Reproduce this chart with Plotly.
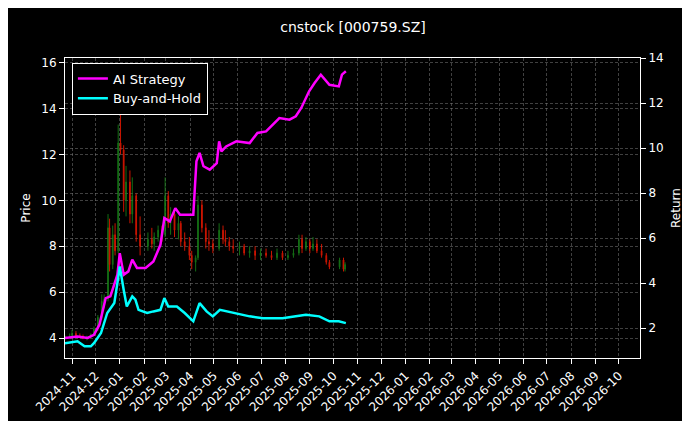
import plotly.graph_objects as go

c_dates = ["2024-10-24","2024-10-29","2024-11-01","2024-11-06","2024-11-11","2024-11-15","2024-11-20","2024-11-25","2024-11-29","2024-12-04","2024-12-09","2024-12-12","2024-12-17","2024-12-19","2024-12-23","2024-12-26","2024-12-30","2025-01-02","2025-01-06","2025-01-09","2025-01-14","2025-01-17","2025-01-22","2025-01-27","2025-02-06","2025-02-11","2025-02-14","2025-02-19","2025-02-24","2025-02-28","2025-03-04","2025-03-07","2025-03-12","2025-03-17","2025-03-20","2025-03-25","2025-03-31","2025-04-03","2025-04-08","2025-04-11","2025-04-16","2025-04-21","2025-04-25","2025-04-30","2025-05-08","2025-05-13","2025-05-16","2025-05-21","2025-05-26","2025-06-03","2025-06-09","2025-06-16","2025-06-23","2025-06-30","2025-07-07","2025-07-14","2025-07-21","2025-07-28","2025-08-04","2025-08-11","2025-08-18","2025-08-22","2025-08-27","2025-09-01","2025-09-05","2025-09-10","2025-09-16","2025-09-22","2025-09-26","2025-10-09","2025-10-14","2025-10-16"]
c_open = [4.0,4.05,4.1,4.2,4.1,4.05,4.0,4.05,4.15,4.4,4.9,5.6,5.7,8.8,7.2,8.5,7.8,12.5,12.2,10.0,10.8,9.4,10.2,8.5,8.0,8.3,8.1,8.4,8.7,8.5,10.2,9.0,9.4,8.7,9.0,8.2,8.0,7.6,7.3,7.5,9.8,8.8,8.2,8.1,7.9,8.7,8.3,8.2,8.0,7.9,8.0,7.7,7.8,7.6,7.7,7.6,7.5,7.7,7.5,7.6,7.7,8.3,7.9,8.2,7.9,8.1,7.8,7.6,7.3,7.1,7.4,7.0]
c_high = [4.1,4.2,4.35,4.3,4.2,4.15,4.1,4.2,4.5,5.0,5.9,5.9,9.4,9.2,8.9,9.0,13.3,14.3,12.4,11.5,11.3,11.0,10.3,9.3,8.6,8.8,8.6,8.9,8.9,11.0,10.4,9.7,9.6,9.3,9.1,8.6,8.4,7.8,7.6,10.2,10.0,9.0,8.7,8.3,9.0,8.9,8.7,8.4,8.3,8.2,8.1,8.0,8.0,7.9,7.9,7.8,7.9,7.8,7.8,7.9,8.5,8.5,8.4,8.3,8.4,8.3,8.1,7.7,7.4,7.5,7.5,7.3]
c_low = [3.95,4.0,4.05,4.05,4.0,3.95,3.9,4.0,4.1,4.3,4.8,5.3,5.6,6.9,7.0,7.6,7.7,12.0,9.5,9.3,9.0,9.0,8.2,7.6,7.8,7.9,7.8,8.2,8.2,8.4,8.8,8.5,8.4,8.3,8.0,7.8,7.4,7.0,6.9,7.4,8.6,7.9,7.8,7.7,7.8,8.1,8.0,7.8,7.7,7.6,7.6,7.5,7.4,7.4,7.5,7.4,7.4,7.4,7.4,7.5,7.6,7.7,7.8,7.7,7.8,7.7,7.5,7.2,7.0,7.0,6.9,6.9]
c_close = [4.05,4.1,4.2,4.1,4.05,4.0,4.05,4.15,4.4,4.9,5.6,5.7,8.8,7.2,8.5,7.8,12.5,12.2,10.0,10.8,9.4,10.2,8.5,8.0,8.3,8.1,8.4,8.7,8.5,10.2,9.0,9.4,8.7,9.0,8.2,8.0,7.6,7.3,7.5,9.8,8.8,8.2,8.1,7.9,8.7,8.3,8.2,8.0,7.9,8.0,7.7,7.8,7.6,7.7,7.6,7.5,7.7,7.5,7.6,7.7,8.3,7.9,8.2,7.9,8.1,7.8,7.6,7.3,7.1,7.4,7.0,7.2]

ai_dates = ["2024-10-23","2024-11-08","2024-11-21","2024-11-29","2024-12-06","2024-12-14","2024-12-20","2024-12-29","2025-01-01","2025-01-06","2025-01-12","2025-01-17","2025-01-23","2025-02-03","2025-02-13","2025-02-17","2025-02-22","2025-02-27","2025-03-06","2025-03-13","2025-03-19","2025-04-05","2025-04-09","2025-04-13","2025-04-18","2025-04-26","2025-05-05","2025-05-08","2025-05-11","2025-05-17","2025-05-30","2025-06-16","2025-06-26","2025-07-07","2025-07-15","2025-07-24","2025-08-06","2025-08-14","2025-08-21","2025-08-31","2025-09-07","2025-09-15","2025-09-26","2025-10-08","2025-10-12","2025-10-17"]
ai_ret = [1.56,1.63,1.56,1.70,2.15,3.33,3.41,4.37,5.33,4.37,4.52,5.04,4.67,4.67,4.96,5.33,5.70,6.89,6.74,7.33,7.04,7.04,9.41,9.78,9.19,9.04,9.33,10.30,9.85,10.07,10.30,10.22,10.67,10.74,11.04,11.33,11.26,11.41,11.78,12.52,12.89,13.26,12.81,12.74,13.26,13.41]

bh_dates = ["2024-10-23","2024-11-08","2024-11-17","2024-11-25","2024-11-29","2024-12-08","2024-12-16","2024-12-25","2024-12-29","2025-01-01","2025-01-06","2025-01-10","2025-01-17","2025-01-21","2025-01-25","2025-02-05","2025-02-13","2025-02-22","2025-02-27","2025-03-04","2025-03-15","2025-03-25","2025-04-05","2025-04-13","2025-04-22","2025-04-30","2025-05-09","2025-05-26","2025-06-16","2025-07-03","2025-07-28","2025-08-14","2025-08-27","2025-09-13","2025-09-26","2025-10-08","2025-10-17"]
bh_ret = [1.33,1.41,1.19,1.19,1.33,1.78,2.67,3.11,4.00,4.74,3.70,2.96,3.41,3.26,2.81,2.67,2.74,2.81,3.33,2.96,2.96,2.67,2.30,3.11,2.74,2.52,2.81,2.67,2.52,2.44,2.44,2.52,2.59,2.52,2.30,2.30,2.22]

fig = go.Figure()
fig.add_trace(go.Candlestick(x=c_dates, open=c_open, high=c_high, low=c_low, close=c_close,
    increasing=dict(line=dict(color="#1a8a1a", width=1), fillcolor="#1a8a1a"),
    decreasing=dict(line=dict(color="#ff1a00", width=1), fillcolor="#ff1a00"),
    whiskerwidth=0, opacity=0.8, showlegend=False, yaxis="y"))
fig.add_trace(go.Scatter(x=ai_dates, y=ai_ret, mode="lines", name="AI Strategy",
    line=dict(color="#ff00ff", width=2.5), yaxis="y2"))
fig.add_trace(go.Scatter(x=bh_dates, y=bh_ret, mode="lines", name="Buy-and-Hold",
    line=dict(color="#00ffff", width=2.5), yaxis="y2"))

grid = "rgba(128,128,128,0.5)"
gd = "3px,2px"
fig.update_layout(
    width=690, height=421, paper_bgcolor="black", plot_bgcolor="black",
    font=dict(family="DejaVu Sans", color="white", size=12),
    margin=dict(l=57, r=58, t=50, b=71),
    title=dict(text="cnstock [000759.SZ]", x=0.5, xanchor="center", y=0.955, yanchor="middle", font=dict(size=14)),
    xaxis=dict(range=["2024-10-23","2026-10-28"], dtick="M1", tick0="2024-11-01", tickformat="%Y-%m",
               tickangle=-45, showgrid=True, gridcolor=grid, griddash=gd, gridwidth=0.5,
               showline=True, linecolor="white", mirror=True, ticks="outside", tickcolor="white",
               rangeslider=dict(visible=False)),
    yaxis=dict(title=dict(text="Price", standoff=8, font=dict(size=12)), range=[3.13,16.2], dtick=2, showgrid=True, gridcolor=grid,
               griddash=gd, gridwidth=0.5, showline=True, linecolor="white", ticks="outside",
               tickcolor="white", zeroline=False),
    yaxis2=dict(title=dict(text="Return", standoff=8, font=dict(size=12)), overlaying="y", side="right", range=[0.67,14.0], dtick=2,
                showgrid=True, gridcolor=grid, griddash=gd, gridwidth=0.5, showline=True,
                linecolor="white", ticks="outside", tickcolor="white", zeroline=False),
    legend=dict(x=0.012, y=0.985, xanchor="left", yanchor="top", bgcolor="black",
                bordercolor="white", borderwidth=1, font=dict(size=13)),
)
fig.write_html("out.html")
